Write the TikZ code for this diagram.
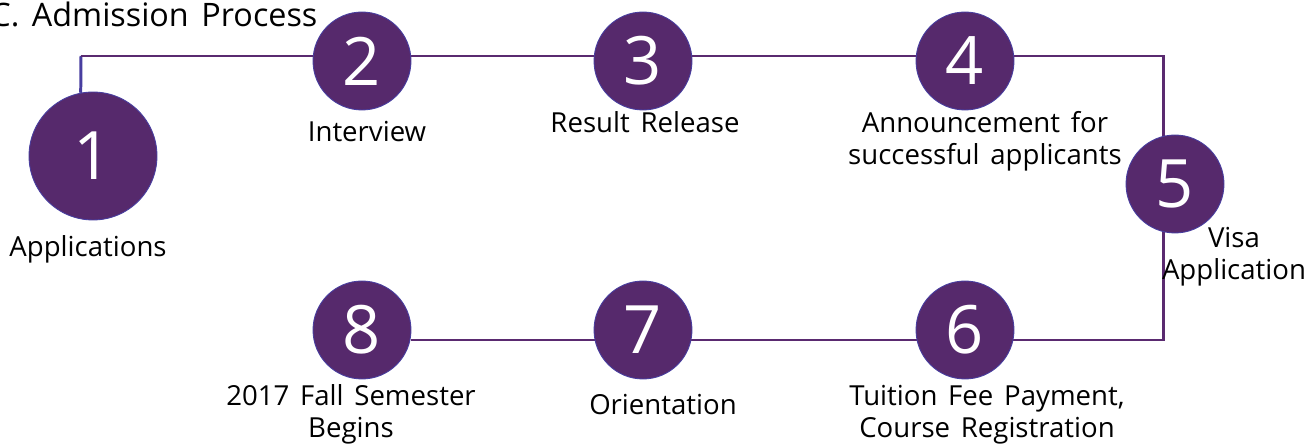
\documentclass[tikz,border=0pt]{standalone}
\usepackage{fontspec}
\setmainfont[WordSpace=1.5]{Open Sans}
\usetikzlibrary{backgrounds}
\definecolor{ColStep}{RGB}{86,41,108}
\definecolor{ColRim}{RGB}{72,62,160}
\definecolor{ColRoute}{RGB}{90,42,112}
\tikzstyle{StepNode}=[circle,draw=ColRim,fill=ColStep,line width=0.5pt,inner sep=0pt,
minimum size=1.96cm,text=white,font=\fontsize{38}{40}\selectfont]
\tikzstyle{BigStep}=[StepNode,minimum size=2.56cm]
\tikzstyle{StepLabel}=[inner sep=0pt,align=center,anchor=base,font=\fontsize{15.7}{18.5}\selectfont]
\tikzstyle{Route}=[ColRoute,line width=1.7pt]

\begin{document}
\begin{tikzpicture}[x=0.02cm,y=-0.02cm]
        \useasboundingbox (0,0) rectangle (1309,445);
        \node[anchor=base west,inner sep=0pt,font=\fontsize{18.4}{20}\selectfont](title)at(-10,27){C. Admission Process};
        \node[BigStep](s1)at(93,156){1};
        \node[StepNode](s2)at(362,61){2};
        \node[StepNode](s3)at(643,61){3};
        \node[StepNode](s4)at(965,61){4};
        \node[StepNode](s5)at(1175,184){5};
        \node[StepNode](s6)at(965,330){6};
        \node[StepNode](s7)at(643,330){7};
        \node[StepNode](s8)at(362,330){8};
        \coordinate(tl)at(81,56);
        \coordinate(tr)at(1163,56);
        \coordinate(br)at(1163,340);
        \begin{scope}[on background layer]
        \draw[Route,ColRim](s1.101)--(tl);
        \draw[Route](tl)--(tr)--(br)--(br -| s8.east);
        \end{scope}
        \node[StepLabel](l1)at(88,257){Applications};
        \node[StepLabel](l2)at(367,142){Interview};
        \node[StepLabel](l3)at(645,133){Result Release};
        \node[StepLabel](l4)at(985,165){Announcement for\\successful applicants};
        \node[StepLabel](l5)at(1234,280){Visa\\Application};
        \node[StepLabel](l6)at(987,438){Tuition Fee Payment,\\Course Registration};
        \node[StepLabel](l7)at(663,415){Orientation};
        \node[StepLabel](l8)at(351,438){2017 Fall Semester\\Begins};
    \end{tikzpicture}
\end{document}
